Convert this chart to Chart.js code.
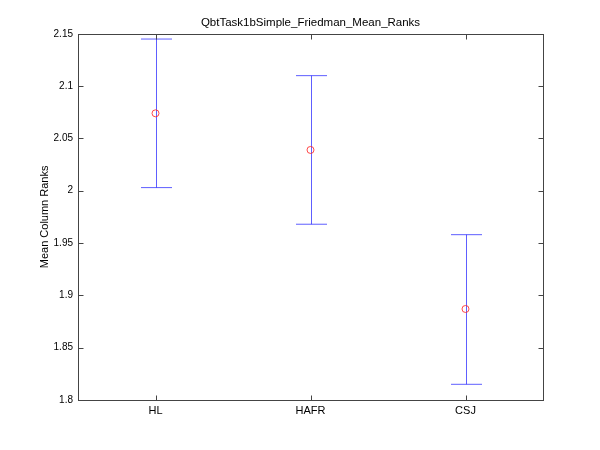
<!DOCTYPE html>
<html>
<head>
<meta charset="utf-8">
<title>QbtTask1bSimple_Friedman_Mean_Ranks</title>
<script src="https://cdn.jsdelivr.net/npm/chart.js@4.4.0/dist/chart.umd.min.js"></script>
<style>
  body { margin: 0; background: #fff; }
  canvas { display: block; }
</style>
</head>
<body>
<canvas id="canvas" width="600" height="450"></canvas>
<script>
// values
var categories = ['HL', 'HAFR', 'CSJ'];
var meanRanks = [2.074, 2.039, 1.887];
var lowerBound = [2.003, 1.968, 1.815];
var upperBound = [2.145, 2.110, 1.958];
var yTicks = [1.8, 1.85, 1.9, 1.95, 2, 2.05, 2.1, 2.15];

var fontFamily = '"Liberation Sans", Arial, Helvetica, sans-serif';

// error bars, box and inward ticks (matlab style)
var errorBars = {
    id: 'errorBars',
    beforeDatasetsDraw: function(chart) {
        var ctx = chart.ctx;
        var xs = chart.scales.x, ys = chart.scales.y;
        ctx.save();
        ctx.strokeStyle = 'rgba(40,40,255,0.75)';
        ctx.lineWidth = 1;
        for (var i = 0; i < categories.length; i++) {
            var x = Math.round(xs.getPixelForValue(i)) + 0.5;
            var top = ys.getPixelForValue(upperBound[i]);
            var bot = ys.getPixelForValue(lowerBound[i]);
            ctx.beginPath();
            ctx.moveTo(x, top); ctx.lineTo(x, bot);
            ctx.moveTo(x - 15.5, top); ctx.lineTo(x + 15.5, top);
            ctx.moveTo(x - 15.5, bot); ctx.lineTo(x + 15.5, bot);
            ctx.stroke();
        }
        ctx.restore();
    },
    afterDraw: function(chart) {
        var ctx = chart.ctx, a = chart.chartArea;
        var xs = chart.scales.x, ys = chart.scales.y;
        ctx.save();
        ctx.strokeStyle = '#444';
        ctx.lineWidth = 1;
        var l = Math.round(a.left) + 0.5, r = Math.round(a.right) + 0.5;
        var t = Math.round(a.top) + 0.5, b = Math.round(a.bottom) + 0.5;
        ctx.strokeRect(l, t, r - l, b - t);
        ctx.beginPath();
        yTicks.forEach(function(v) {
            var y = Math.round(ys.getPixelForValue(v)) + 0.5;
            ctx.moveTo(l, y); ctx.lineTo(l + 5, y);
            ctx.moveTo(r, y); ctx.lineTo(r - 5, y);
        });
        categories.forEach(function(c, i) {
            var x = Math.round(xs.getPixelForValue(i)) + 0.5;
            ctx.moveTo(x, b); ctx.lineTo(x, b - 5);
            ctx.moveTo(x, t); ctx.lineTo(x, t + 5);
        });
        ctx.stroke();
        ctx.restore();
    }
};

var ctx = document.getElementById('canvas').getContext('2d');
var chart = new Chart(ctx, {
    type: 'line',
    data: {
        labels: categories,
        datasets: [{
            label: 'Mean Column Ranks',
            data: meanRanks,
            showLine: false,
            pointStyle: 'circle',
            pointRadius: 3.5,
            pointBorderWidth: 1,
            pointBorderColor: 'rgba(255,30,30,0.8)',
            pointBackgroundColor: 'rgba(0,0,0,0)'
        }]
    },
    options: {
        responsive: false,
        animation: false,
        devicePixelRatio: 1,
        layout: { padding: { left: 21, right: 0, top: 0, bottom: 0 } },
        plugins: {
            legend: { display: false },
            tooltip: { enabled: false },
            title: {
                display: true,
                text: 'QbtTask1bSimple_Friedman_Mean_Ranks',
                color: '#000',
                font: { family: fontFamily, size: 11.5, weight: 'normal' },
                padding: { top: 16, bottom: 4 }
            }
        },
        scales: {
            x: {
                type: 'category',
                offset: true,
                grid: { display: false, drawTicks: false },
                border: { display: false },
                ticks: {
                    color: '#000',
                    padding: 4,
                    font: { family: fontFamily, size: 11 }
                },
                afterFit: function(s) { s.height = 50; }
            },
            y: {
                type: 'linear',
                min: 1.8,
                max: 2.15,
                grid: { display: false, drawTicks: false },
                border: { display: false },
                afterBuildTicks: function(s) {
                    s.ticks = yTicks.map(function(v) { return { value: v }; });
                },
                ticks: {
                    color: '#000',
                    padding: 5,
                    font: { family: fontFamily, size: 10 },
                    callback: function(v) { return String(+(+v).toFixed(2)); }
                },
                title: {
                    display: true,
                    text: 'Mean Column Ranks',
                    color: '#000',
                    font: { family: fontFamily, size: 11 },
                    padding: { top: 17, bottom: 0 }
                },
                afterFit: function(s) { s.width = 57; }
            },
            yr: {
                type: 'linear',
                position: 'right',
                display: true,
                grid: { display: false, drawTicks: false },
                border: { display: false },
                ticks: { display: false },
                afterFit: function(s) { s.width = 57; }
            }
        }
    },
    plugins: [errorBars]
});
</script>
</body>
</html>
